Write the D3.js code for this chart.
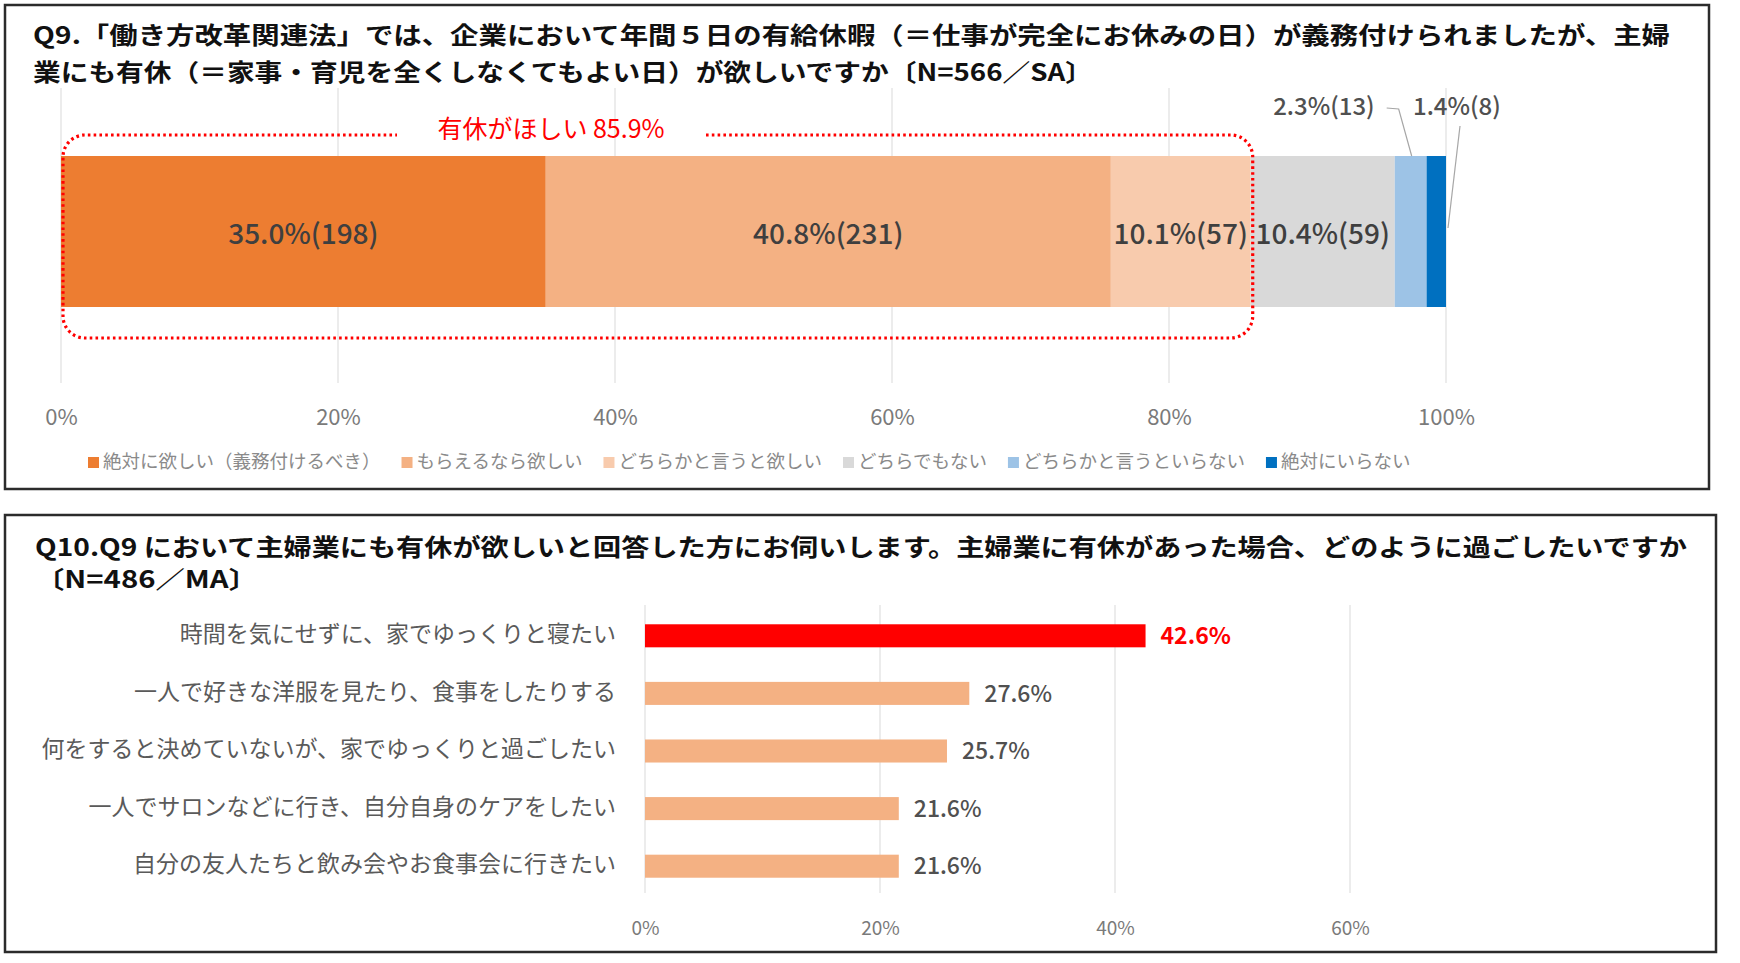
<!DOCTYPE html>
<html><head><meta charset="utf-8">
<script src="https://cdn.jsdelivr.net/npm/d3@7"></script>
<style>
body{margin:0;background:#fff}
svg{display:block}
text{font-family:"Noto Sans CJK JP","Noto Sans",sans-serif}
</style>
</head><body>
<svg id="c" width="1740" height="963"></svg>
<script>
// ---------- data ----------
const q9TitleLines = [
  "Q9.「働き方改革関連法」では、企業において年間５日の有給休暇（＝仕事が完全にお休みの日）が義務付けられましたが、主婦",
  "業にも有休（＝家事・育児を全くしなくてもよい日）が欲しいですか〔N=566／SA〕"
];
const q9Categories = ["絶対に欲しい（義務付けるべき）","もらえるなら欲しい","どちらかと言うと欲しい","どちらでもない","どちらかと言うといらない","絶対にいらない"];
const q9Percent = [35.0, 40.8, 10.1, 10.4, 2.3, 1.4];
const q9Count = [198, 231, 57, 59, 13, 8];
const q9Ticks = [0, 20, 40, 60, 80, 100];
const q9HighlightLabel = "有休がほしい";
const q9HighlightCount = 3; // first three answers = "want it"

const q10TitleLines = [
  "Q10.Q9 において主婦業にも有休が欲しいと回答した方にお伺いします。主婦業に有休があった場合、どのように過ごしたいですか",
  "〔N=486／MA〕"
];
const q10Categories = [
  "時間を気にせずに、家でゆっくりと寝たい",
  "一人で好きな洋服を見たり、食事をしたりする",
  "何をすると決めていないが、家でゆっくりと過ごしたい",
  "一人でサロンなどに行き、自分自身のケアをしたい",
  "自分の友人たちと飲み会やお食事会に行きたい"
];
const q10Values = [42.6, 27.6, 25.7, 21.6, 21.6];
const q10Ticks = [0, 20, 40, 60];

// ---------- styles ----------
const q9Colors = ["#ED7D31","#F4B183","#F8CBAD","#D9D9D9","#9DC3E6","#0070C0"];
const fmt = d => d.toFixed(1) + "%";

const svg = d3.select("#c");
svg.append("rect").attr("width",1740).attr("height",963).attr("fill","#fff");

// panel frames
svg.append("rect").attr("x",5).attr("y",5).attr("width",1704).attr("height",484)
  .attr("fill","none").attr("stroke","#2b2b2b").attr("stroke-width",2.5);
svg.append("rect").attr("x",5).attr("y",515).attr("width",1711).attr("height",437)
  .attr("fill","none").attr("stroke","#2b2b2b").attr("stroke-width",2.5);

// ================= Q9 =================
const gA = svg.append("g");
const titleA = [{x:33,y:37,len:1637},{x:33,y:74,len:1060}];
gA.selectAll("text.title").data(q9TitleLines).join("text")
  .attr("class","title")
  .attr("x",(d,i)=>titleA[i].x).attr("y",(d,i)=>titleA[i].y)
  .attr("dominant-baseline","middle")
  .attr("font-size",24).attr("font-weight",700).attr("fill","#111")
  .attr("textLength",(d,i)=>titleA[i].len).attr("lengthAdjust","spacingAndGlyphs")
  .text(d=>d);

const x1 = d3.scaleLinear().domain([0,100]).range([61,1446]);
const barTop = 156, barH = 151;

// gridlines
gA.selectAll("line.grid").data(q9Ticks).join("line")
  .attr("x1",d=>x1(d)).attr("x2",d=>x1(d)).attr("y1",88).attr("y2",383)
  .attr("stroke","#D9D9D9").attr("stroke-width",1);

// axis tick labels via d3 axis
const axA = gA.append("g").attr("transform","translate(0,415)")
  .call(d3.axisBottom(x1).tickValues(q9Ticks).tickFormat(d=>d+"%").tickSize(0));
axA.select(".domain").remove();
axA.selectAll("text").attr("font-size",22).attr("fill","#7a7a7a")
  .attr("font-family","\"Noto Sans CJK JP\",sans-serif").attr("dy","0.3em");

// stacked segments
const ends = d3.cumsum(q9Percent);
const segs = q9Percent.map((v,i)=>({v, c:q9Count[i], s: ends[i]-v, e: ends[i], i}));
gA.selectAll("rect.seg").data(segs).join("rect")
  .attr("x",d=>x1(d.s)).attr("width",d=>x1(d.e)-x1(d.s))
  .attr("y",barTop).attr("height",barH)
  .attr("fill",d=>q9Colors[d.i]);

// inside labels (first four)
gA.selectAll("text.inl").data(segs.slice(0,4)).join("text")
  .attr("x",d=>(x1(d.s)+x1(d.e))/2).attr("y",barTop+barH/2+5)
  .attr("text-anchor","middle").attr("dominant-baseline","middle")
  .attr("font-size",28).attr("font-weight",500).attr("fill","#3f3f3f")
  .text(d=>fmt(d.v)+"("+d.c+")");

// outside labels with leader lines
const s5 = segs[4], s6 = segs[5];
const c5 = (x1(s5.s)+x1(s5.e))/2;
const r6 = x1(s6.e);
gA.append("path")
  .attr("d",`M${c5-24},108 L${c5-12},109 L${c5+1},${barTop}`)
  .attr("fill","none").attr("stroke","#A6A6A6").attr("stroke-width",1.2);
gA.append("path")
  .attr("d",`M${r6+14},126 L${r6+2},228`)
  .attr("fill","none").attr("stroke","#A6A6A6").attr("stroke-width",1.2);
gA.append("text").attr("x",c5-36).attr("y",108).attr("text-anchor","end")
  .attr("dominant-baseline","middle").attr("font-size",24).attr("font-weight",500).attr("fill","#505050")
  .text(fmt(s5.v)+"("+s5.c+")");
gA.append("text").attr("x",r6-33).attr("y",108).attr("text-anchor","start")
  .attr("dominant-baseline","middle").attr("font-size",24).attr("font-weight",500).attr("fill","#505050")
  .text(fmt(s6.v)+"("+s6.c+")");

// highlight dotted rounded box
const hlTotal = ends[q9HighlightCount-1];
const bx0 = x1(0)+2, bx1 = x1(hlTotal)+2, by0 = 135, by1 = 338, r = 22;
gA.append("text")
  .attr("x",551).attr("y",131).attr("text-anchor","middle").attr("dominant-baseline","middle")
  .attr("font-size",25).attr("fill","#FF0000")
  .text(q9HighlightLabel + "  " + hlTotal.toFixed(1) + "%");
const gapL = 397, gapR = 706;
gA.append("path")
  .attr("d",`M${gapR},${by0} H${bx1-r} A${r},${r} 0 0 1 ${bx1},${by0+r} V${by1-r} A${r},${r} 0 0 1 ${bx1-r},${by1} H${bx0+r} A${r},${r} 0 0 1 ${bx0},${by1-r} V${by0+r} A${r},${r} 0 0 1 ${bx0+r},${by0} H${gapL}`)
  .attr("fill","none").attr("stroke","#FF0000").attr("stroke-width",3.2)
  .attr("stroke-dasharray","2.6,3.2");

// legend
const lg = gA.append("g");
let lx = 88;
q9Categories.forEach((name,i)=>{
  lg.append("rect").attr("x",lx).attr("y",457).attr("width",11).attr("height",11).attr("fill",q9Colors[i]);
  const t = lg.append("text").attr("x",lx+15).attr("y",463).attr("dominant-baseline","middle")
    .attr("font-size",18.5).attr("fill","#8a8a8a").text(name);
  lx = lx + 15 + t.node().getComputedTextLength() + 21;
});

// ================= Q10 =================
const gB = svg.append("g");
const titleB = [{x:35,y:549,len:1652},{x:35,y:581,len:223}];
gB.selectAll("text.title").data(q10TitleLines).join("text")
  .attr("class","title")
  .attr("x",(d,i)=>titleB[i].x).attr("y",(d,i)=>titleB[i].y)
  .attr("dominant-baseline","middle")
  .attr("font-size",24).attr("font-weight",700).attr("fill","#111")
  .attr("textLength",(d,i)=>titleB[i].len).attr("lengthAdjust","spacingAndGlyphs")
  .text(d=>d);

const x2 = d3.scaleLinear().domain([0,60]).range([645,1350]);
const y2 = d3.scaleBand().domain(q10Categories).range([607,895]).paddingInner(0.6).paddingOuter(0.3);

gB.selectAll("line.grid").data(q10Ticks).join("line")
  .attr("x1",d=>x2(d)).attr("x2",d=>x2(d)).attr("y1",605).attr("y2",893)
  .attr("stroke","#D9D9D9").attr("stroke-width",1);

const axB = gB.append("g").attr("transform","translate(0,926)")
  .call(d3.axisBottom(x2).tickValues(q10Ticks).tickFormat(d=>d+"%").tickSize(0));
axB.select(".domain").remove();
axB.selectAll("text").attr("font-size",19).attr("fill","#7a7a7a")
  .attr("font-family","\"Noto Sans CJK JP\",sans-serif").attr("dy","0.3em");

const q10Data = q10Categories.map((c,i)=>({c, v:q10Values[i], i}));
gB.selectAll("rect.bar").data(q10Data).join("rect")
  .attr("x",x2(0)).attr("y",d=>y2(d.c)).attr("height",y2.bandwidth())
  .attr("width",d=>x2(d.v)-x2(0))
  .attr("fill",d=>d.i===0?"#FF0000":"#F4B183");

gB.selectAll("text.val").data(q10Data).join("text")
  .attr("x",d=>x2(d.v)+15).attr("y",d=>y2(d.c)+y2.bandwidth()/2+2)
  .attr("dominant-baseline","middle")
  .attr("font-size",23).attr("font-weight",d=>d.i===0?700:500)
  .attr("fill",d=>d.i===0?"#FF0000":"#505050")
  .text(d=>fmt(d.v));

gB.selectAll("text.cat").data(q10Data).join("text")
  .attr("x",616).attr("y",d=>y2(d.c)+y2.bandwidth()/2)
  .attr("text-anchor","end").attr("dominant-baseline","middle")
  .attr("font-size",23).attr("fill","#5a5a5a")
  .text(d=>d.c);
</script>
</body></html>
